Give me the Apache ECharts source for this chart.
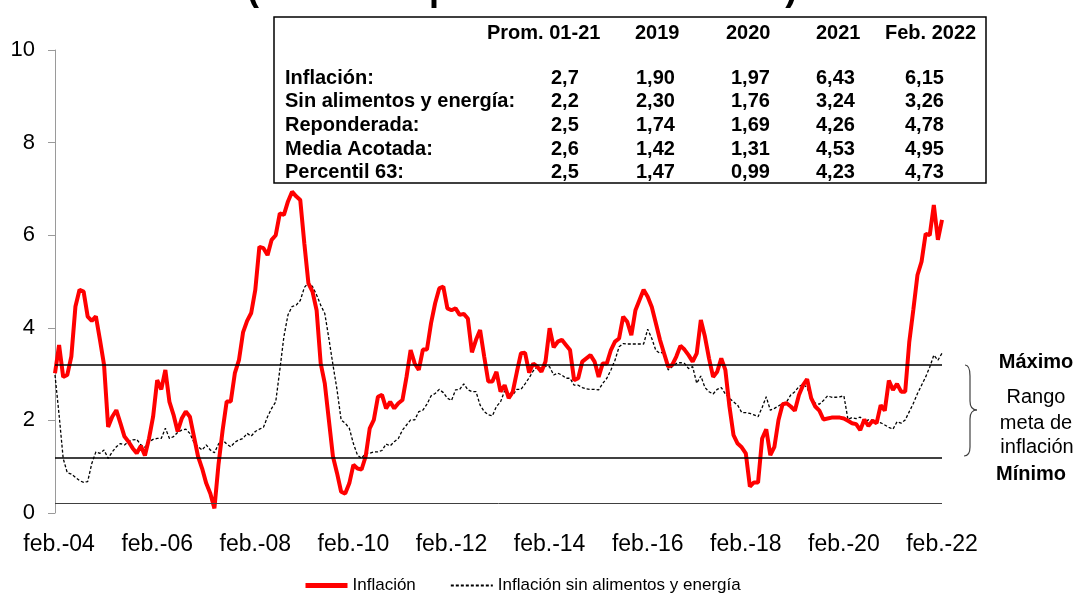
<!DOCTYPE html>
<html>
<head>
<meta charset="utf-8">
<title>Inflación y meta de inflación</title>
<script src="https://cdn.jsdelivr.net/npm/echarts@6/dist/echarts.min.js"></script>
<style>
    html, body { margin: 0; padding: 0; background: #fff; }
    #inflation_chart { width: 1078px; height: 593px; }
</style>
</head>
<body>
<div id="inflation_chart"></div>
<script>

// Chart data
// ------------------------------

// Monthly categories, Jan 2004 - Feb 2022
var monthNames = ['ene.', 'feb.', 'mar.', 'abr.', 'may.', 'jun.', 'jul.', 'ago.', 'sep.', 'oct.', 'nov.', 'dic.'];
var categories = [];
for (var y = 2004; y <= 2022; y++) {
    for (var m = 0; m < 12; m++) {
        if (y === 2022 && m > 1) break;
        categories.push(monthNames[m] + '-' + String(y).slice(2));
    }
}

// Inflación (12 meses)
var inflacion = [
    3.02, 3.63, 2.94, 2.98, 3.38, 4.46, 4.82, 4.78, 4.24, 4.15, 4.25, 3.74,
    3.20, 1.86, 2.08, 2.22, 1.94, 1.65, 1.54, 1.40, 1.29, 1.45, 1.24, 1.61,
    2.08, 2.87, 2.67, 3.09, 2.40, 2.12, 1.76, 2.04, 2.19, 2.08, 1.65, 1.22,
    0.96, 0.64, 0.42, 0.10, 1.05, 1.78, 2.41, 2.41, 3.02, 3.30, 3.90, 4.15,
    4.32, 4.82, 5.75, 5.72, 5.57, 5.90, 6.00, 6.47, 6.44, 6.73, 6.94, 6.84,
    6.76, 5.82, 4.96, 4.78, 4.38, 3.23, 2.80, 2.01, 1.22, 0.86, 0.46, 0.42,
    0.64, 1.04, 0.96, 0.94, 1.22, 1.83, 2.01, 2.51, 2.55, 2.26, 2.40, 2.26,
    2.37, 2.44, 2.94, 3.52, 3.23, 3.09, 3.53, 3.53, 4.10, 4.53, 4.85, 4.89,
    4.42, 4.38, 4.42, 4.28, 4.30, 4.20, 3.47, 3.74, 3.95, 3.38, 2.84, 2.84,
    3.05, 2.62, 2.76, 2.48, 2.62, 3.05, 3.45, 3.46, 3.03, 3.23, 3.16, 3.05,
    3.27, 3.99, 3.58, 3.70, 3.74, 3.63, 3.52, 2.87, 2.91, 3.27, 3.34, 3.41,
    3.27, 2.94, 3.23, 3.23, 3.52, 3.70, 3.77, 4.24, 4.13, 3.84, 4.38, 4.60,
    4.82, 4.67, 4.45, 4.10, 3.74, 3.45, 3.16, 3.20, 3.38, 3.61, 3.53, 3.41,
    3.27, 3.45, 4.17, 3.81, 3.34, 2.94, 3.05, 3.34, 3.09, 2.30, 1.68, 1.50,
    1.42, 1.29, 0.57, 0.66, 0.66, 1.61, 1.81, 1.25, 1.43, 2.01, 2.35, 2.37,
    2.30, 2.21, 2.55, 2.76, 2.89, 2.48, 2.30, 2.21, 2.02, 2.04, 2.06, 2.06,
    2.06, 2.04, 1.99, 1.94, 1.92, 1.79, 2.02, 1.88, 1.99, 1.94, 2.33, 2.21,
    2.86, 2.66, 2.79, 2.62, 2.62, 3.70, 4.40, 5.14, 5.43, 6.03, 6.00, 6.65,
    5.90, 6.33
];

// Inflación sin alimentos y energía (12 meses)
var sinAlimentos = [
    2.98, 2.12, 1.18, 0.87, 0.84, 0.77, 0.70, 0.66, 0.68, 1.07, 1.32, 1.29,
    1.36, 1.18, 1.32, 1.43, 1.50, 1.47, 1.54, 1.58, 1.59, 1.47, 1.42, 1.54,
    1.59, 1.61, 1.61, 1.83, 1.61, 1.65, 1.74, 1.79, 1.81, 1.72, 1.52, 1.43,
    1.36, 1.47, 1.36, 1.30, 1.49, 1.58, 1.49, 1.43, 1.53, 1.58, 1.61, 1.72,
    1.66, 1.76, 1.81, 1.85, 2.08, 2.26, 2.40, 3.09, 3.81, 4.28, 4.46, 4.49,
    4.59, 4.87, 4.97, 4.89, 4.71, 4.49, 4.31, 3.77, 3.20, 2.66, 2.01, 1.94,
    1.83, 1.50, 1.25, 1.18, 1.29, 1.29, 1.32, 1.32, 1.35, 1.49, 1.45, 1.54,
    1.61, 1.79, 1.90, 2.01, 2.01, 2.19, 2.22, 2.35, 2.53, 2.58, 2.67, 2.60,
    2.48, 2.43, 2.66, 2.67, 2.79, 2.66, 2.62, 2.62, 2.33, 2.19, 2.12, 2.10,
    2.30, 2.40, 2.64, 2.51, 2.55, 2.67, 2.67, 2.79, 2.92, 3.07, 3.16, 3.12,
    3.17, 3.16, 2.98, 3.02, 2.98, 2.91, 2.91, 2.76, 2.76, 2.71, 2.68, 2.67,
    2.67, 2.66, 2.80, 2.91, 3.09, 3.30, 3.59, 3.66, 3.65, 3.65, 3.65, 3.65,
    3.65, 3.97, 3.77, 3.51, 3.45, 3.48, 3.09, 3.16, 3.23, 3.25, 3.23, 3.12,
    3.16, 2.80, 2.96, 2.71, 2.62, 2.57, 2.67, 2.71, 2.57, 2.48, 2.40, 2.33,
    2.17, 2.17, 2.15, 2.12, 2.08, 2.28, 2.51, 2.22, 2.26, 2.31, 2.37, 2.40,
    2.55, 2.62, 2.73, 2.78, 2.71, 2.48, 2.37, 2.35, 2.43, 2.53, 2.50, 2.50,
    2.51, 2.53, 2.02, 2.06, 2.04, 2.07, 1.97, 2.01, 2.01, 1.94, 1.95, 1.90,
    1.85, 1.81, 1.97, 1.94, 2.01, 2.19, 2.37, 2.58, 2.76, 2.94, 3.15, 3.41,
    3.30, 3.45
];

// Target range lines and horizontal base line
var rangoMaximo = 3.2;
var rangoMinimo = 1.2;
var lineaBase = 0.2;

// Summary table
var tableHeaders = ['Prom. 01-21', '2019', '2020', '2021', 'Feb. 2022'];
var tableLabels = ['Inflación:', 'Sin alimentos y energía:', 'Reponderada:', 'Media Acotada:', 'Percentil 63:'];
var tableValues = [
    ['2,7', '1,90', '1,97', '6,43', '6,15'],
    ['2,2', '2,30', '1,76', '3,24', '3,26'],
    ['2,5', '1,74', '1,69', '4,26', '4,78'],
    ['2,6', '1,42', '1,31', '4,53', '4,95'],
    ['2,5', '1,47', '0,99', '4,23', '4,73']
];


// Setup module
// ------------------------------

var EchartsInflationRange = function() {

    var FONT = '"Liberation Sans", Arial, sans-serif';

    // Table graphic elements
    var _tableGraphic = function() {
        var headerX = [487, 635, 726, 816, 885];
        var valueX = [551, 636, 731, 816, 905];
        var rowY = [78, 101, 125, 149, 172];
        var els = [];

        els.push({
            type: 'rect',
            shape: { x: 274, y: 17, width: 712, height: 166 },
            style: { fill: '#fff', stroke: '#000', lineWidth: 1.5 },
            z: 10
        });

        tableHeaders.forEach(function(h, i) {
            els.push({
                type: 'text', x: headerX[i], y: 33, z: 11,
                style: { text: h, font: 'bold 20px ' + FONT, fill: '#000', verticalAlign: 'middle' }
            });
        });

        tableLabels.forEach(function(label, r) {
            els.push({
                type: 'text', x: 285, y: rowY[r], z: 11,
                style: { text: label, font: 'bold 20px ' + FONT, fill: '#000', verticalAlign: 'middle' }
            });
            tableValues[r].forEach(function(v, c) {
                els.push({
                    type: 'text', x: valueX[c], y: rowY[r], z: 11,
                    style: { text: v, font: 'bold 20px ' + FONT, fill: '#000', verticalAlign: 'middle' }
                });
            });
        });

        return els;
    };

    // Right side annotations (target range)
    var _rangeGraphic = function() {
        var brace = { stroke: '#404040', lineWidth: 1.2, fill: null };
        var txt = function(x, y, text, bold) {
            return {
                type: 'text', x: x, y: y,
                style: { text: text, font: (bold ? 'bold ' : '') + '20px ' + FONT, fill: '#000', align: 'center', verticalAlign: 'middle' }
            };
        };
        return [
            // Curly brace
            { type: 'bezierCurve', shape: { x1: 965, y1: 365, cpx1: 969, cpy1: 365, cpx2: 970, cpy2: 369, x2: 970, y2: 376 }, style: brace },
            { type: 'line', shape: { x1: 970, y1: 376, x2: 970, y2: 401 }, style: brace },
            { type: 'bezierCurve', shape: { x1: 970, y1: 401, cpx1: 970, cpy1: 407, cpx2: 973, cpy2: 410, x2: 977, y2: 410 }, style: brace },
            { type: 'bezierCurve', shape: { x1: 977, y1: 410, cpx1: 973, cpy1: 410, cpx2: 970, cpy2: 413, x2: 970, y2: 419 }, style: brace },
            { type: 'line', shape: { x1: 970, y1: 419, x2: 970, y2: 447 }, style: brace },
            { type: 'bezierCurve', shape: { x1: 970, y1: 447, cpx1: 970, cpy1: 453, cpx2: 968, cpy2: 456, x2: 964, y2: 456 }, style: brace },
            txt(1036, 362, 'Máximo', true),
            txt(1036, 397, 'Rango', false),
            txt(1036, 423, 'meta de', false),
            txt(1037, 447, 'inflación', false),
            txt(1031, 474, 'Mínimo', true),
            // Title, cut off at the top of the picture
            { type: 'text', x: 522, y: 8, style: { text: '(Variación porcentual 12 meses)', font: 'bold 36px ' + FONT, fill: '#000', align: 'center', verticalAlign: 'bottom' } }
        ];
    };

    var _inflationChart = function() {
        if (typeof echarts == 'undefined') {
            console.warn('Warning - echarts.min.js is not loaded.');
            return;
        }

        var chart_element = document.getElementById('inflation_chart');
        if (!chart_element) return;

        var chart = echarts.init(chart_element);

        chart.setOption({
            animation: false,
            color: ['#FF0000', '#000000'],

            textStyle: {
                fontFamily: FONT
            },

            grid: {
                left: 55,
                right: 136,
                top: 50,
                bottom: 80
            },

            legend: {
                left: 298,
                top: 572,
                itemWidth: 42,
                itemHeight: 14,
                itemGap: 34,
                itemStyle: { opacity: 0 },
                textStyle: { fontSize: 17, color: '#000', fontFamily: FONT },
                data: [
                    { name: 'Inflación', lineStyle: { width: 5 } },
                    { name: 'Inflación sin alimentos y energía' }
                ]
            },

            xAxis: {
                type: 'category',
                boundaryGap: false,
                data: categories,
                axisLine: { show: false },
                axisTick: { show: false },
                axisLabel: {
                    interval: function(index) { return index % 24 === 1; },
                    color: '#000',
                    fontSize: 23,
                    margin: 20
                },
                splitLine: { show: false }
            },

            yAxis: {
                type: 'value',
                min: 0,
                max: 10,
                interval: 2,
                axisLine: { show: true, lineStyle: { color: '#9a9a9a', width: 1 } },
                axisTick: { show: true, length: 7, lineStyle: { color: '#9a9a9a' } },
                axisLabel: { color: '#000', fontSize: 22, margin: 20 },
                splitLine: { show: false }
            },

            series: [
                {
                    name: 'Inflación',
                    type: 'line',
                    symbol: 'none',
                    z: 3,
                    lineStyle: { color: '#FF0000', width: 4 },
                    data: inflacion
                },
                {
                    name: 'Inflación sin alimentos y energía',
                    type: 'line',
                    symbol: 'none',
                    z: 2,
                    lineStyle: { color: '#000000', width: 1.3, type: [3, 2] },
                    data: sinAlimentos,
                    markLine: {
                        silent: true,
                        symbol: ['none', 'none'],
                        label: { show: false },
                        data: [
                            { yAxis: rangoMaximo, lineStyle: { color: '#000', width: 1.5, type: 'solid' } },
                            { yAxis: rangoMinimo, lineStyle: { color: '#000', width: 1.5, type: 'solid' } },
                            { yAxis: lineaBase, lineStyle: { color: '#404040', width: 1, type: 'solid' } }
                        ]
                    }
                }
            ],

            graphic: _tableGraphic().concat(_rangeGraphic())
        });

        // Resize chart on window resize
        var resizeCharts;
        window.addEventListener('resize', function() {
            clearTimeout(resizeCharts);
            resizeCharts = setTimeout(function () {
                chart.resize();
            }, 200);
        });
    };

    return {
        init: function() {
            _inflationChart();
        }
    }
}();


// Initialize module
// ------------------------------

document.addEventListener('DOMContentLoaded', function() {
    EchartsInflationRange.init();
});
</script>
</body>
</html>
